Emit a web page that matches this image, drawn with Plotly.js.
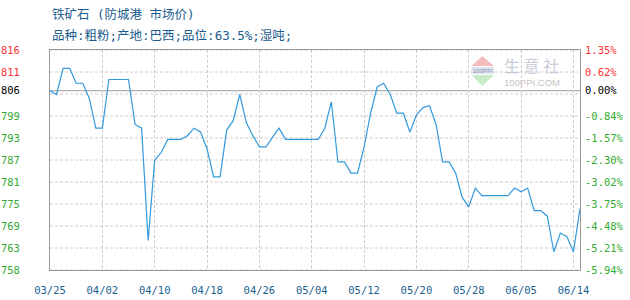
<!DOCTYPE html>
<html>
<head>
<meta charset="utf-8">
<script src="https://cdn.plot.ly/plotly-3.0.1.min.js"></script>
<style>
  html, body { margin: 0; padding: 0; background: #fff; }
  #chart { width: 630px; height: 300px; }
</style>
</head>
<body>
<div id="chart"></div>
<script>
// 铁矿石（防城港 市场价）daily prices, first value is the 0.00% base
const prices = [
  806, 805, 812, 812, 808, 808, 804, 796, 796, 809,
  809, 809, 809, 797, 796, 766, 787.5, 789.5, 793, 793,
  793, 794, 796, 795, 790.5, 783, 783, 795.5, 798, 805,
  797.5, 794, 791, 791, 793.5, 796, 793, 793, 793, 793,
  793, 793, 796, 803, 787, 787, 784, 784, 791, 800,
  807, 808, 805, 800, 800, 795, 799.5, 801.5, 802, 797,
  787, 787, 784, 777.5, 775, 780, 778, 778, 778, 778,
  778, 780, 779, 780, 774, 774, 772.5, 763, 768, 767,
  763, 774.5
];

// date labels, one every xLabelStep points
const xLabels = ["03/25", "04/02", "04/10", "04/18", "04/26", "05/04",
                 "05/12", "05/20", "05/28", "06/05", "06/14"];
const xLabelStep = 8;

// left (price) and right (change vs. base) axis labels, top to bottom
const priceLabels = ["816", "811", "806", "799", "793", "787", "781", "775", "769", "763", "758"];
const pctLabels = ["1.35%", "0.62%", "0.00%", "-0.84%", "-1.57%", "-2.30%",
                   "-3.02%", "-3.75%", "-4.48%", "-5.21%", "-5.94%"];
const pctTop = 1.35;
const pctBottom = -5.94;

const titleText = "铁矿石 (防城港 市场价)";
const subtitleText = "品种:粗粉;产地:巴西;品位:63.5%;湿吨;";

// ---- derived scales ----
const base = prices[0];
const yMax = base * (1 + pctTop / 100);
const yMin = base * (1 + pctBottom / 100);
const gridVals = Array.from({ length: 11 }, (_, k) => yMax - k * (yMax - yMin) / 10);
const tickVals = gridVals.map((v, k) => (pctLabels[k] === "0.00%" ? base : v));

const RED = "#ff3333", GREEN = "#33aa33", BLACK = "#000000";
function signColor(k) {
  const p = pctLabels[k];
  if (p.charAt(0) === "-") return GREEN;
  if (p === "0.00%") return BLACK;
  return RED;
}
const leftText = priceLabels.map((t, k) => `<span style="color:${signColor(k)}">${t}</span>`);
const rightText = pctLabels.map((t, k) => `<span style="color:${signColor(k)}">${t}</span>`);

const xs = prices.map((_, i) => i);
const xTickVals = xLabels.map((_, k) => k * xLabelStep);

// plot-area pixel box: left 50, right 580, top 50, bottom 270
const PL = 50, PR = 580, PT = 50, PB = 270;
const px = x => (x - PL) / (PR - PL);
const py = y => (PB - y) / (PB - PT);

const MONO = "DejaVu Sans Mono, monospace";
const CJK = "Noto Sans CJK SC, sans-serif";
// half-width Latin glyphs next to full-width Chinese ones
const MIXED = "DejaVu Sans Mono, Noto Sans CJK SC, monospace";
const DASH = "3px,2px";

const shapes = gridVals.map(v => ({
  type: "line", xref: "paper", yref: "y", x0: 0, x1: 1, y0: v, y1: v,
  line: { color: "#cccccc", width: 1, dash: DASH }, layer: "below"
}));
// base (0.00%) line
shapes.push({
  type: "line", xref: "paper", yref: "y", x0: 0, x1: 1, y0: base, y1: base,
  line: { color: "#999999", width: 1 }, layer: "below"
});
// 生意社 logo triangles
shapes.push({
  type: "path", xref: "paper", yref: "paper",
  path: `M ${px(482.3)} ${py(56)} L ${px(494)} ${py(66)} L ${px(471.5)} ${py(66)} Z`,
  fillcolor: "#f4bcbc", line: { width: 0 }, layer: "below"
});
shapes.push({
  type: "path", xref: "paper", yref: "paper",
  path: `M ${px(471.5)} ${py(75)} L ${px(494)} ${py(75)} L ${px(482.3)} ${py(86)} Z`,
  fillcolor: "#c6ebc6", line: { width: 0 }, layer: "below"
});
shapes.push({
  type: "rect", xref: "paper", yref: "paper",
  x0: px(471.5), x1: px(494), y0: py(74), y1: py(67),
  fillcolor: "#dfe3ee", line: { width: 0 }, layer: "below"
});

const annotations = [
  { text: titleText, xref: "paper", yref: "paper", x: px(50), y: py(14),
    xanchor: "left", yanchor: "middle", showarrow: false,
    font: { family: MIXED, size: 12.5, color: "#1a5a8c" } },
  { text: subtitleText, xref: "paper", yref: "paper", x: px(50), y: py(35),
    xanchor: "left", yanchor: "middle", showarrow: false,
    font: { family: MIXED, size: 12.5, color: "#1a5a8c" } },
  { text: "生 意 社", xref: "paper", yref: "paper", x: px(531.5), y: py(64.5),
    xanchor: "center", yanchor: "middle", showarrow: false, borderpad: 0,
    font: { family: CJK, size: 16, color: "#c8ccda" } },
  { text: "100PPI.COM", xref: "paper", yref: "paper", x: px(532), y: py(82),
    xanchor: "center", yanchor: "middle", showarrow: false, borderpad: 0,
    font: { family: "Liberation Sans, Arial, sans-serif", size: 9.5, color: "#c4c4c4" } },
  { text: "100PPI", xref: "paper", yref: "paper", x: px(482.8), y: py(70.5),
    xanchor: "center", yanchor: "middle", showarrow: false, borderpad: 0,
    font: { family: "Liberation Sans, Arial, sans-serif", size: 6, color: "#8a96b8" } }
];

const traces = [
  { x: xs, y: prices, yaxis: "y2", mode: "lines", line: { width: 0 },
    opacity: 0, hoverinfo: "skip", showlegend: false },
  { x: xs, y: prices, mode: "lines", line: { color: "#3399dd", width: 1.2 },
    hoverinfo: "skip", showlegend: false }
];

const layout = {
  width: 630, height: 300,
  margin: { l: PL, r: 630 - PR, t: PT, b: 300 - PB, pad: 0 },
  paper_bgcolor: "#ffffff", plot_bgcolor: "#ffffff",
  showlegend: false,
  xaxis: {
    range: [0, prices.length - 1],
    tickmode: "array", tickvals: xTickVals, ticktext: xLabels,
    showgrid: true, gridcolor: "#cccccc", griddash: DASH, gridwidth: 1,
    zeroline: false, showline: true, mirror: true, linecolor: "#999999", linewidth: 1,
    ticks: "", ticklabelstandoff: 10,
    tickfont: { family: MONO, size: 10.5, color: "#1a5f91" }
  },
  yaxis: {
    range: [yMin, yMax],
    tickmode: "array", tickvals: tickVals, ticktext: leftText,
    showgrid: false, zeroline: false,
    showline: true, mirror: true, linecolor: "#999999", linewidth: 1,
    ticks: "", ticklabelstandoff: 27,
    tickfont: { family: MONO, size: 10.5, color: "#000" }
  },
  yaxis2: {
    overlaying: "y", side: "right",
    range: [yMin, yMax],
    tickmode: "array", tickvals: tickVals, ticktext: rightText,
    showgrid: false, zeroline: false, showline: false,
    ticks: "", ticklabelstandoff: 4,
    tickfont: { family: MONO, size: 10.5, color: "#000" }
  },
  shapes: shapes,
  annotations: annotations
};

Plotly.newPlot("chart", traces, layout, { staticPlot: true, displayModeBar: false });
</script>
</body>
</html>
